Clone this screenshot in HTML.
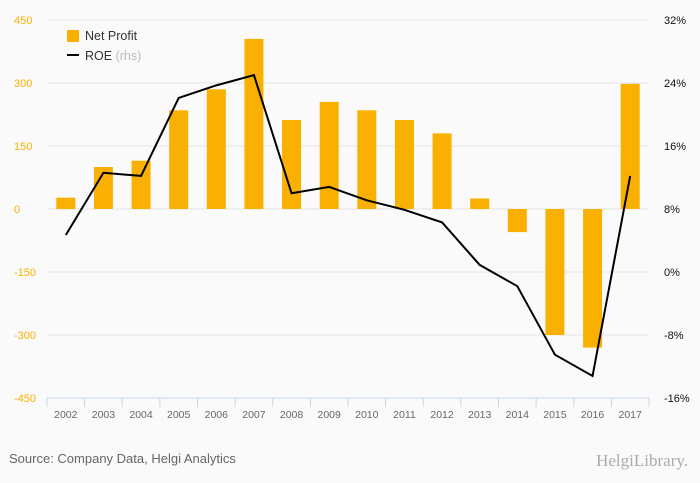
<!DOCTYPE html>
<html><head><meta charset="utf-8"><style>
body{margin:0;background:#fafafa;font-family:"Liberation Sans",sans-serif;}
svg{display:block}
</style></head><body>
<svg id="c" width="700" height="483" viewBox="0 0 700 483">
<rect width="700" height="483" fill="#fafafa"/>
<g id="grid"></g><g id="bars"></g><g id="axis"></g><g id="line"></g>
<g>
<rect x="67" y="30" width="12" height="12" fill="#f9b000"/>
<text x="85" y="40" font-size="12.5" fill="#333">Net Profit</text>
<line x1="67" y1="55" x2="79" y2="55" stroke="#000" stroke-width="2"/>
<text x="85" y="60" font-size="12.5" fill="#333">ROE <tspan fill="#bbb">(rhs)</tspan></text>
</g>
<text x="9" y="463" font-size="13" fill="#666">Source: Company Data, Helgi Analytics</text>
<text x="688" y="466" font-size="17" fill="#aaa" text-anchor="end" font-family="Liberation Serif,serif">HelgiLibrary.</text>
</svg>
<script>
const years=["2002","2003","2004","2005","2006","2007","2008","2009","2010","2011","2012","2013","2014","2015","2016","2017"];
const netProfit=[27,100,115,235,285,405,212,255,235,212,180,25,-55,-300,-330,298];
const roe=[4.7,12.6,12.2,22.1,23.7,25.0,10.0,10.8,9.1,7.9,6.3,0.9,-1.8,-10.5,-13.2,12.2];
const leftTicks=[450,300,150,0,-150,-300,-450];
const rightTicks=[32,24,16,8,0,-8,-16];
const NS="http://www.w3.org/2000/svg";
const X0=47,X1=649,YT=20,YB=398;
const yL=v=>YT+(450-v)/900*(YB-YT);
const yR=v=>YT+(32-v)/48*(YB-YT);
const bw=(X1-X0)/years.length;
const xc=i=>X0+bw*(i+0.5);
function mk(t,a,p){const e=document.createElementNS(NS,t);for(const k in a)e.setAttribute(k,a[k]);p.appendChild(e);return e;}
const G=document.getElementById('grid'),B=document.getElementById('bars'),A=document.getElementById('axis'),L=document.getElementById('line');
leftTicks.forEach((v,i)=>{
 if(i<leftTicks.length-1){const g=mk('line',{x1:X0,x2:X1,y1:yL(v),y2:yL(v),stroke:'#e4e4e4'},G);
 
 }
 const t=mk('text',{x:14,y:yL(v)+4,'font-size':11,fill:'#f9b000'},A);t.textContent=v;
 
 
});
rightTicks.forEach(v=>{
 const t=mk('text',{x:664,y:yR(v)+4,'font-size':11,fill:'#111'},A);t.textContent=v+'%';
 
 
});
const ax=mk('line',{x1:X0,x2:X1,y1:YB,y2:YB,stroke:'#c8d6ea'},A);


for(let i=0;i<=years.length;i++){const tk=mk('line',{x1:X0+bw*i,x2:X0+bw*i,y1:YB,y2:YB+9,stroke:'#c8d6ea'},A);
 
 }
years.forEach((y,i)=>{
 const t=mk('text',{x:xc(i),y:418,'font-size':10.5,fill:'#666','text-anchor':'middle'},A);t.textContent=y;
 
 
 const v=netProfit[i],y0=yL(0),y1=yL(v);
 const r=mk('rect',{x:xc(i)-9.5,y:Math.min(y0,y1),width:19,height:Math.abs(y1-y0),fill:'#f9b000'},B);
 
 
});
const pl=mk('polyline',{points:roe.map((v,i)=>xc(i)+','+yR(v)).join(' '),fill:'none',stroke:'#000','stroke-width':2},L);


</script>
</body></html>
